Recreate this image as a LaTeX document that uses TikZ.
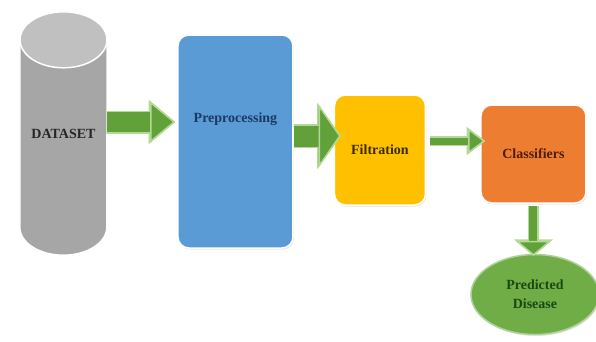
\documentclass[tikz,border=0pt]{standalone}
\usepackage{fontspec}
\setmainfont{Liberation Serif}
\usepackage{tikz}
\usetikzlibrary{arrows.meta,positioning,shapes.geometric,shadows,backgrounds}

\definecolor{dsbody}{RGB}{166,166,166}
\definecolor{dstop}{RGB}{192,192,192}
\definecolor{preblue}{RGB}{91,155,213}
\definecolor{filtyellow}{RGB}{255,192,0}
\definecolor{clsorange}{RGB}{237,125,49}
\definecolor{predgreen}{RGB}{112,173,71}
\definecolor{arrowfill}{RGB}{98,160,58}
\definecolor{arrowedge}{RGB}{178,218,150}
\definecolor{pretext}{RGB}{28,56,100}
\definecolor{filttext}{RGB}{60,42,0}
\definecolor{clstext}{RGB}{80,30,6}
\definecolor{predtext}{RGB}{26,72,16}

\begin{document}
\begin{tikzpicture}[x=1pt,y=-1pt,
  label font/.style={font=\bfseries\fontsize{14}{19}\selectfont},
  data node/.style={rectangle,minimum width=87pt,minimum height=243pt,
                    inner sep=0pt,label font,text=black!85},
  cyl edge/.style={draw=white,line width=1.5pt},
  box node/.style={rectangle,rounded corners=11pt,draw=white,line width=1.5pt,
                   label font,
                   drop shadow={opacity=0.2,shadow xshift=1pt,shadow yshift=-1.5pt}},
  end node/.style={ellipse,fill=predgreen,draw=predgreen!55!white,line width=1.5pt,
                   minimum width=128pt,minimum height=80pt,inner sep=0pt,
                   align=center,label font,text=predtext,
                   drop shadow={opacity=0.2,shadow xshift=1pt,shadow yshift=-1.5pt}},
  flow/.style n args={3}{draw=arrowfill,line width=#1,
                   -{Triangle[length=#2 0.5,width=#3 1,line width=1.5pt,
                              fill=arrowfill,color=arrowedge]},
                   preaction={draw=arrowedge,line width=#1+3pt}}]

  \useasboundingbox (0,0) rectangle (596,341);

  \node[data node] (D) at (63.5,133.5) {DATASET};
  \node[box node,fill=preblue,minimum width=115pt,minimum height=213pt]
       (P) [right=70pt of D,yshift=-8pt] {};
  \node[label font,text=pretext] (Ptxt) [below=75pt of P.north] {Preprocessing};
  \node[box node,fill=filtyellow,text=filttext,minimum width=91pt,minimum height=110pt]
       (Y) [right=40pt of P,yshift=-8.5pt] {Filtration};
  \node[box node,fill=clsorange,text=clstext,minimum width=105pt,minimum height=98pt]
       (O) [right=54pt of Y,yshift=-4pt] {Classifiers};
  \node[end node] (E) [below=50pt of O,xshift=1.5pt] {Predicted\\Disease};

  % dataset drum behind its label
  \begin{scope}[on background layer]
    \filldraw[cyl edge,fill=dsbody] ([yshift=-28pt]D.north west)
      -- ([yshift=28pt]D.south west)
      arc[start angle=180,end angle=360,x radius=43.5pt,y radius=28pt]
      -- ([yshift=-28pt]D.north east)
      arc[start angle=0,end angle=180,x radius=43.5pt,y radius=28pt] -- cycle;
    \filldraw[cyl edge,fill=dstop] ([yshift=-28pt]D.north)
      ellipse[x radius=43.5pt,y radius=28pt];
  \end{scope}

  % block arrows between the stages
  \draw[flow={20pt}{15pt}{21pt}] ([yshift=11.5pt]D.east)
       -- ([yshift=11.5pt,xshift=-2pt]D.east -| P.west);
  \draw[flow={21pt}{11.5pt}{42pt}] ([yshift=5.5pt]P.east)
       -- ([yshift=5.5pt,xshift=7pt]P.east -| Y.west);
  \draw[flow={7pt}{13.5pt}{18pt}] ([yshift=9pt,xshift=4pt]Y.east)
       -- ([yshift=9pt,xshift=5pt]Y.east -| O.west);
  \draw[flow={8pt}{11pt}{28pt}] ([yshift=-2pt]O.south)
       -- ([yshift=-2pt]O.south |- E.north);

\end{tikzpicture}
\end{document}
